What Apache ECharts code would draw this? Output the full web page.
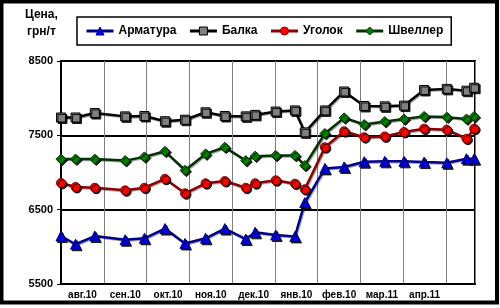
<!DOCTYPE html>
<html>
<head>
<meta charset="utf-8">
<script src="https://cdn.jsdelivr.net/npm/echarts@6/dist/echarts.min.js"></script>
<style>
html,body{margin:0;padding:0;background:#fff;}
#chart{width:500px;height:308px;}
</style>
</head>
<body>
<div id="chart"></div>
<script>
// Month labels (x axis) and y ticks
const monthLabels = ['авг.10','сен.10','окт.10','ноя.10','дек.10','янв.10','фев.10','мар.11','апр.11'];
const yTicks = [5500, 6500, 7500, 8500];
// Position of each observation, in months from the start of авг.10
const xPos = [0, 0.34, 0.79, 1.50, 1.95, 2.43, 2.90, 3.38, 3.83, 4.32, 4.54, 5.02, 5.47, 5.70, 6.17, 6.62, 7.09, 7.57, 8.02, 8.49, 9.02, 9.48, 9.66];
// Series values, грн/т
const armatura = [6145, 6035, 6145, 6095, 6115, 6245, 6045, 6115, 6245, 6105, 6195, 6160, 6140, 6595, 7055, 7075, 7145, 7150, 7150, 7140, 7130, 7185, 7185];
const balka    = [7740, 7740, 7800, 7755, 7760, 7690, 7710, 7810, 7760, 7755, 7775, 7820, 7835, 7540, 7835, 8090, 7895, 7890, 7900, 8110, 8125, 8100, 8140];
const ugolok   = [6860, 6805, 6795, 6760, 6795, 6915, 6720, 6855, 6885, 6795, 6855, 6895, 6850, 6775, 7340, 7555, 7475, 7485, 7545, 7590, 7575, 7455, 7590];
const shveller = [7180, 7180, 7180, 7160, 7210, 7285, 7030, 7250, 7340, 7160, 7220, 7230, 7230, 7095, 7525, 7735, 7645, 7685, 7720, 7755, 7745, 7720, 7755];
const seriesNames = ['Арматура', 'Балка', 'Уголок', 'Швеллер'];

const FONT = 'Liberation Sans, Arial, sans-serif';
const pair = arr => arr.map((v, i) => [xPos[i], v]);
const shadow = {shadowColor: 'rgba(0,0,0,0.85)', shadowBlur: 0, shadowOffsetX: 1.5, shadowOffsetY: 1.5};

const styles = [
  {line: '#00008B', fill: '#0000FF', symbol: 'triangle', size: 10},
  {line: '#000000', fill: '#808080', symbol: 'rect', size: 9},
  {line: '#8B0000', fill: '#FF0000', symbol: 'circle', size: 9},
  {line: '#003300', fill: '#008000', symbol: 'diamond', size: 10}
];
const dataSets = [armatura, balka, ugolok, shveller];

const series = dataSets.map((d, i) => ({
  name: seriesNames[i], type: 'line', data: pair(d),
  symbol: styles[i].symbol, symbolSize: styles[i].size,
  lineStyle: {color: styles[i].line, width: 2.5, shadowColor: 'rgba(0,0,0,0.35)', shadowBlur: 0, shadowOffsetX: 1, shadowOffsetY: 1},
  itemStyle: Object.assign({color: styles[i].fill, borderColor: styles[i].line, borderWidth: 1}, shadow),
  emphasis: {disabled: true}, animation: false
}));

const chart = echarts.init(document.getElementById('chart'), null, {renderer: 'canvas'});
chart.setOption({
  backgroundColor: '#fff',
  animation: false,
  grid: {left: 61, right: 25, top: 61, bottom: 24, show: true, borderColor: '#000', borderWidth: 2, backgroundColor: 'transparent'},
  legend: {
    left: 77, top: 17, orient: 'horizontal',
    padding: [8, 8], itemGap: 12, itemWidth: 27, itemHeight: 10,
    borderColor: '#000', borderWidth: 1.5,
    textStyle: {fontFamily: FONT, fontSize: 12, fontWeight: 'bold', color: '#000'},
    data: seriesNames.map((n, i) => ({
      name: n,
      itemStyle: {color: styles[i].fill, borderColor: styles[i].line, borderWidth: 1},
      lineStyle: {color: styles[i].line, width: 3}
    }))
  },
  xAxis: {
    type: 'value', min: 0, max: 9.68, interval: 1,
    axisLine: {show: true, lineStyle: {color: '#000', width: 2}},
    axisTick: {show: false},
    splitLine: {show: true, lineStyle: {color: '#808080', width: 1}},
    axisLabel: {
      margin: 6, padding: [0, 0, 0, 43],
      fontFamily: FONT, fontSize: 10, fontWeight: 'bold', color: '#000',
      showMaxLabel: false,
      formatter: v => (Math.abs(v - Math.round(v)) < 1e-6 && monthLabels[Math.round(v)]) || ''
    }
  },
  yAxis: {
    type: 'value', min: yTicks[0], max: yTicks[yTicks.length - 1], interval: 1000,
    axisLine: {show: true, lineStyle: {color: '#000', width: 2}},
    axisTick: {show: true, length: 4, lineStyle: {color: '#000', width: 1}},
    splitLine: {show: true, lineStyle: {color: '#000', width: 2}},
    axisLabel: {margin: 8, fontFamily: FONT, fontSize: 11, fontWeight: 'bold', color: '#000', formatter: v => String(v)}
  },
  graphic: [
    {type: 'rect', shape: {x: 1.5, y: 1.5, width: 495.5, height: 301}, style: {fill: null, stroke: '#000', lineWidth: 4}, silent: true},
    {type: 'text', left: 25, top: 9, style: {text: 'Цена,', font: 'bold 12px ' + FONT, fill: '#000'}},
    {type: 'text', left: 27, top: 26, style: {text: 'грн/т', font: 'bold 12px ' + FONT, fill: '#000'}}
  ],
  series: series
});
</script>
</body>
</html>
